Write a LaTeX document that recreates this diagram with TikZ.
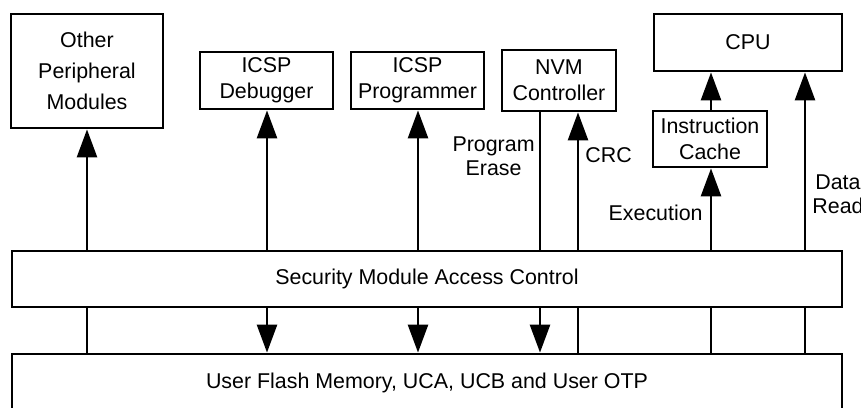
\documentclass[tikz,border=0pt]{standalone}
\usepackage{fontspec}
\setmainfont{Liberation Sans}
\usetikzlibrary{arrows.meta}

\tikzset{
  blk/.style={draw, line width=1.4pt, align=center, inner sep=0pt,
    font=\fontsize{10.7}{13}\selectfont},
  lbl/.style={align=center, inner sep=0pt, font=\fontsize{10.7}{12}\selectfont},
  flow/.style={line width=1.3pt, -{Triangle[length=14pt, width=10pt]}},
  wire/.style={line width=1.3pt}
}

\begin{document}
\begin{tikzpicture}[x=0.5pt, y=-0.5pt]
  \useasboundingbox (0,0) rectangle (861,407);
  % blocks on top
  \node[blk, minimum width=76pt, minimum height=57pt,
        font=\fontsize{10.7}{15.5}\selectfont] (opm) at (87,71) {Other\\Peripheral\\Modules};
  \node[blk, minimum width=66.5pt, minimum height=28.5pt] (dbg) at (266.5,80.5) {ICSP\\Debugger};
  \node[blk, minimum width=66.5pt, minimum height=28.5pt] (prg) at (417.5,80.5) {ICSP\\Programmer};
  \node[blk, minimum width=57pt, minimum height=30.5pt] (nvm) at (559,80.5) {NVM\\Controller};
  \node[blk, minimum width=94pt, minimum height=28.5pt] (cpu) at (748,42.5) {CPU};
  \node[blk, minimum width=57pt, minimum height=28pt] (ic) at (710,139) {Instruction\\Cache};
  % the two wide layers
  \node[blk, minimum width=415pt, minimum height=28pt] (smac) at (427,279) {Security Module Access Control};
  \node[blk, minimum width=415pt, minimum height=29pt] (ufm) at (427,383) {User Flash Memory, UCA, UCB and User OTP};
  % x of the paths
  \coordinate (op) at (87,0);
  \coordinate (db) at (267,0);
  \coordinate (pr) at (418,0);
  \coordinate (pe) at (540,0);
  \coordinate (crc) at (578,0);
  \coordinate (ex) at (711,0);
  \coordinate (dr) at (805,0);
  % up from access control
  \draw[flow] (smac.north -| op) -- (opm.south -| op);
  \draw[flow] (smac.north -| db) -- (dbg.south -| db);
  \draw[flow] (smac.north -| pr) -- (prg.south -| pr);
  \draw[wire] (smac.north -| pe) -- (nvm.south -| pe);
  \draw[flow] (smac.north -| crc) -- (nvm.south -| crc);
  \draw[flow] (smac.north -| ex) -- (ic.south -| ex);
  \draw[flow] (ic.north -| ex) -- (cpu.south -| ex);
  \draw[flow] (smac.north -| dr) -- (cpu.south -| dr);
  % between access control and flash
  \draw[wire] (smac.south -| op) -- (ufm.north -| op);
  \draw[flow] (smac.south -| db) -- (ufm.north -| db);
  \draw[flow] (smac.south -| pr) -- (ufm.north -| pr);
  \draw[flow] (smac.south -| pe) -- (ufm.north -| pe);
  \draw[wire] (smac.south -| crc) -- (ufm.north -| crc);
  \draw[wire] (smac.south -| ex) -- (ufm.north -| ex);
  \draw[wire] (smac.south -| dr) -- (ufm.north -| dr);
  % path labels
  \node[lbl, anchor=east] (pgm) at (535,156) {Program\\Erase};
  \node[lbl, anchor=west] (crcl) at (585,155) {CRC};
  \node[lbl, anchor=east] (exl) at (703,213) {Execution};
  \node[lbl, anchor=west] (drl) at (812,194) {Data\\Read};
\end{tikzpicture}
\end{document}
